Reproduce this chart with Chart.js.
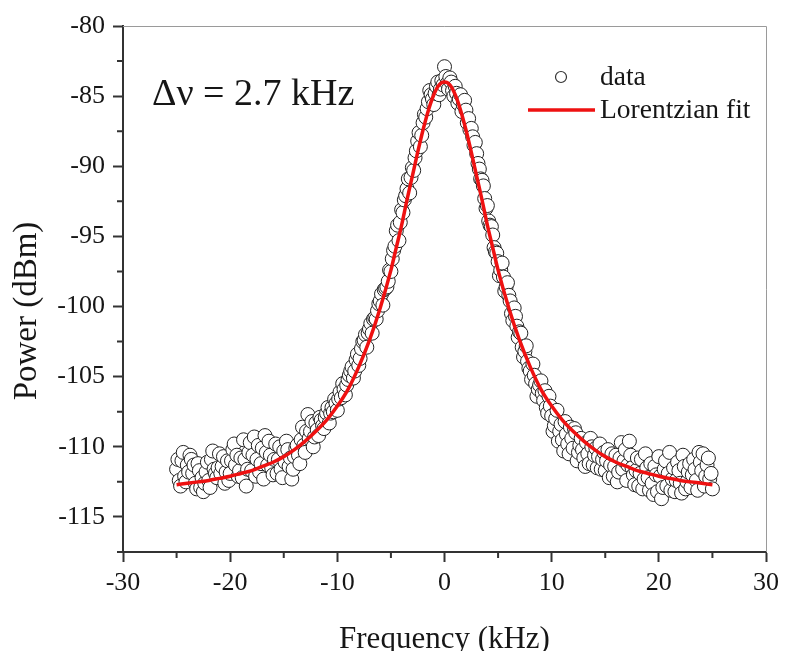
<!DOCTYPE html>
<html>
<head>
<meta charset="utf-8">
<title>Lorentzian linewidth</title>
<script src="https://cdn.jsdelivr.net/npm/chart.js@4.4.1/dist/chart.umd.min.js"></script>
<style>
  html, body { margin: 0; padding: 0; background: #fff; }
  canvas { display: block; }
</style>
</head>
<body>
<canvas id="espectro" width="785" height="651"></canvas>
<script>
// Datos medidos (kHz, dBm)
const frecuencias = [
    -25, -24.875, -24.75, -24.625, -24.5, -24.375, -24.25, -24.125, -24, -23.875, -23.75, -23.625, -23.5, -23.375, -23.25, -23.125, -23, -22.875, -22.75, -22.625,
    -22.5, -22.375, -22.25, -22.125, -22, -21.875, -21.75, -21.625, -21.5, -21.375, -21.25, -21.125, -21, -20.875, -20.75, -20.625, -20.5, -20.375, -20.25, -20.125,
    -20, -19.875, -19.75, -19.625, -19.5, -19.375, -19.25, -19.125, -19, -18.875, -18.75, -18.625, -18.5, -18.375, -18.25, -18.125, -18, -17.875, -17.75, -17.625,
    -17.5, -17.375, -17.25, -17.125, -17, -16.875, -16.75, -16.625, -16.5, -16.375, -16.25, -16.125, -16, -15.875, -15.75, -15.625, -15.5, -15.375, -15.25, -15.125,
    -15, -14.875, -14.75, -14.625, -14.5, -14.375, -14.25, -14.125, -14, -13.875, -13.75, -13.625, -13.5, -13.375, -13.25, -13.125, -13, -12.875, -12.75, -12.625,
    -12.5, -12.375, -12.25, -12.125, -12, -11.875, -11.75, -11.625, -11.5, -11.375, -11.25, -11.125, -11, -10.875, -10.75, -10.625, -10.5, -10.375, -10.25, -10.125,
    -10, -9.875, -9.75, -9.625, -9.5, -9.375, -9.25, -9.125, -9, -8.875, -8.75, -8.625, -8.5, -8.375, -8.25, -8.125, -8, -7.875, -7.75, -7.625,
    -7.5, -7.375, -7.25, -7.125, -7, -6.875, -6.75, -6.625, -6.5, -6.375, -6.25, -6.125, -6, -5.875, -5.75, -5.625, -5.5, -5.375, -5.25, -5.125,
    -5, -4.875, -4.75, -4.625, -4.5, -4.375, -4.25, -4.125, -4, -3.875, -3.75, -3.625, -3.5, -3.375, -3.25, -3.125, -3, -2.875, -2.75, -2.625,
    -2.5, -2.375, -2.25, -2.125, -2, -1.875, -1.75, -1.625, -1.5, -1.375, -1.25, -1.125, -1, -0.875, -0.75, -0.625, -0.5, -0.375, -0.25, -0.125,
    0, 0.125, 0.25, 0.375, 0.5, 0.625, 0.75, 0.875, 1, 1.125, 1.25, 1.375, 1.5, 1.625, 1.75, 1.875, 2, 2.125, 2.25, 2.375,
    2.5, 2.625, 2.75, 2.875, 3, 3.125, 3.25, 3.375, 3.5, 3.625, 3.75, 3.875, 4, 4.125, 4.25, 4.375, 4.5, 4.625, 4.75, 4.875,
    5, 5.125, 5.25, 5.375, 5.5, 5.625, 5.75, 5.875, 6, 6.125, 6.25, 6.375, 6.5, 6.625, 6.75, 6.875, 7, 7.125, 7.25, 7.375,
    7.5, 7.625, 7.75, 7.875, 8, 8.125, 8.25, 8.375, 8.5, 8.625, 8.75, 8.875, 9, 9.125, 9.25, 9.375, 9.5, 9.625, 9.75, 9.875,
    10, 10.125, 10.25, 10.375, 10.5, 10.625, 10.75, 10.875, 11, 11.125, 11.25, 11.375, 11.5, 11.625, 11.75, 11.875, 12, 12.125, 12.25, 12.375,
    12.5, 12.625, 12.75, 12.875, 13, 13.125, 13.25, 13.375, 13.5, 13.625, 13.75, 13.875, 14, 14.125, 14.25, 14.375, 14.5, 14.625, 14.75, 14.875,
    15, 15.125, 15.25, 15.375, 15.5, 15.625, 15.75, 15.875, 16, 16.125, 16.25, 16.375, 16.5, 16.625, 16.75, 16.875, 17, 17.125, 17.25, 17.375,
    17.5, 17.625, 17.75, 17.875, 18, 18.125, 18.25, 18.375, 18.5, 18.625, 18.75, 18.875, 19, 19.125, 19.25, 19.375, 19.5, 19.625, 19.75, 19.875,
    20, 20.125, 20.25, 20.375, 20.5, 20.625, 20.75, 20.875, 21, 21.125, 21.25, 21.375, 21.5, 21.625, 21.75, 21.875, 22, 22.125, 22.25, 22.375,
    22.5, 22.625, 22.75, 22.875, 23, 23.125, 23.25, 23.375, 23.5, 23.625, 23.75, 23.875, 24, 24.125, 24.25, 24.375, 24.5, 24.625, 24.75, 24.875,
    25
];
const potencias = [
    -111.6, -110.9, -112.4, -112.8, -111.0, -110.4, -112.1, -112.5, -111.3, -111.8, -110.6, -110.9, -111.9, -111.3, -112.6, -113.0, -111.2, -111.7, -112.9, -112.2,
    -113.2, -112.6, -111.8, -111.1, -112.4, -112.9, -110.9, -110.3, -111.6, -111.9, -112.2, -111.5, -110.5, -111.9, -111.4, -110.7, -112.6, -111.8, -111.0, -112.4,
    -111.9, -111.0, -110.2, -109.8, -111.3, -110.6, -112.1, -111.7, -110.8, -112.2, -109.5, -110.9, -112.8, -111.6, -110.4, -109.7, -111.7, -110.6, -109.3, -112.1,
    -110.9, -109.9, -111.8, -111.2, -110.1, -112.3, -109.2, -110.4, -111.3, -109.6, -110.6, -111.5, -112.0, -110.9, -109.8, -111.9, -110.9, -110.0, -111.6, -112.2,
    -110.3, -111.1, -109.6, -110.2, -111.4, -110.8, -112.3, -111.6, -110.7, -110.1, -109.9, -110.6, -111.2, -109.5, -108.6, -109.9, -110.4, -108.9, -107.7, -109.4,
    -108.9, -108.2, -110.0, -109.3, -108.3, -108.8, -109.2, -107.9, -108.1, -108.5, -108.7, -107.9, -107.6, -107.2, -108.3, -107.6, -107.2, -107.5, -106.6, -106.9,
    -107.4, -106.6, -106.1, -106.5, -105.5, -105.9, -106.3, -105.6, -105.2, -104.9, -104.6, -104.3, -105.1, -104.6, -103.8, -103.4, -104.2, -103.7, -103.0, -102.5,
    -102.4, -102.0, -102.9, -101.9, -101.6, -101.2, -101.9, -100.9, -100.8, -100.9, -100.3, -99.8, -99.6, -99.1, -99.9, -98.8, -98.7, -98.6, -98.2, -97.4,
    -97.5, -96.6, -96.0, -95.7, -94.6, -94.2, -95.3, -94.0, -93.1, -93.3, -92.4, -92.1, -91.6, -90.9, -91.9, -90.8, -90.1, -90.3, -89.4, -88.9,
    -88.2, -87.6, -88.6, -87.8, -86.9, -86.3, -86.5, -85.9, -85.4, -84.6, -84.9, -85.2, -85.6, -84.8, -84.3, -84.0, -84.9, -84.5, -83.9, -84.2,
    -82.9, -83.6, -84.1, -84.5, -83.7, -84.0, -84.6, -85.0, -84.3, -84.8, -85.5, -85.2, -84.9, -86.1, -85.6, -85.3, -86.0, -86.9, -86.6, -87.4,
    -87.3, -87.9, -88.5, -88.3, -89.1, -89.8, -90.2, -90.9, -91.0, -91.4, -92.3, -93.0, -92.8, -93.9, -94.2, -94.3, -94.9, -95.8, -96.1, -96.2,
    -96.8, -97.8, -97.4, -96.9, -97.9, -98.9, -98.6, -98.3, -99.2, -99.6, -100.5, -101.0, -100.1, -100.7, -101.4, -102.2, -101.8, -101.9, -102.9, -103.6,
    -103.2, -102.8, -103.9, -104.4, -104.6, -105.2, -104.1, -104.9, -105.5, -106.4, -105.9, -105.6, -105.3, -106.2, -106.7, -106.0, -107.2, -107.6, -106.4, -107.1,
    -107.8, -108.9, -108.5, -108.0, -107.4, -109.6, -108.9, -108.4, -109.5, -110.3, -108.2, -109.1, -109.8, -110.5, -108.6, -109.4, -110.1, -108.7, -109.0, -111.0,
    -110.4, -109.9, -109.4, -110.2, -110.8, -111.4, -109.7, -110.5, -111.2, -109.4, -110.0, -111.3, -110.6, -110.1, -111.5, -110.7, -109.8, -111.6, -110.9, -110.4,
    -111.7, -111.0, -110.2, -112.2, -111.3, -110.5, -112.1, -111.4, -110.6, -112.5, -111.8, -110.8, -109.7, -111.6, -111.0, -110.2, -112.4, -111.3, -109.6, -110.6,
    -111.5, -112.0, -112.7, -111.7, -110.8, -112.8, -111.9, -110.9, -113.0, -112.3, -110.5, -111.5, -112.2, -113.1, -111.2, -112.6, -113.4, -111.4, -112.0, -113.2,
    -110.7, -112.1, -113.7, -112.9, -111.6, -111.0, -112.8, -111.9, -110.4, -113.1, -112.3, -111.5, -113.2, -112.4, -111.1, -111.7, -112.6, -113.3, -110.6, -111.4,
    -113.0, -112.5, -111.8, -111.2, -112.9, -112.0, -110.9, -111.6, -112.4, -113.1, -110.4, -111.1, -111.7, -110.5, -112.8, -112.1, -111.3, -110.8, -112.3, -111.9,
    -113.0
];

// Curva de ajuste Lorentziano
const ajusteFrecuencias = [
    -25, -24, -23, -22, -21, -20, -19, -18, -17, -16, -15, -14, -13, -12, -11, -10, -9, -8, -7, -6, -5,
    -4.5, -4, -3.5, -3, -2.5, -2, -1.5, -1, -0.5, 0, 0.5, 1, 1.5, 2, 2.5, 3, 3.5, 4, 4.5,
    5, 6, 7, 8, 9, 10, 11, 12, 13, 14, 15, 16, 17, 18, 19, 20, 21, 22, 23, 24, 25
];
const ajustePotencias = [
    -112.7, -112.6, -112.5, -112.4, -112.25, -112.1, -111.9, -111.7, -111.4, -111.1, -110.7, -110.2, -109.6, -108.9, -108.1, -107.1, -105.9, -104.3, -102.4, -100.1, -97.4,
    -95.8, -94.2, -92.4, -90.7, -89.0, -87.4, -86.0, -84.9, -84.2, -84.0, -84.2, -84.9, -86.0, -87.4, -89.0, -90.7, -92.4, -94.2, -95.8,
    -97.4, -100.1, -102.4, -104.3, -105.9, -107.1, -108.1, -108.9, -109.6, -110.2, -110.7, -111.1, -111.4, -111.7, -111.9, -112.1, -112.25, -112.4, -112.5, -112.6, -112.7
];

// Marcas de los ejes
const ticksX = [-30, -20, -10, 0, 10, 20, 30];
const ticksY = [-115, -110, -105, -100, -95, -90, -85, -80];
const ticksMenoresX = [-25, -15, -5, 5, 15, 25];
const ticksMenoresY = [-117.5, -112.5, -107.5, -102.5, -97.5, -92.5, -87.5, -82.5];

document.addEventListener('DOMContentLoaded', function () {
    const serif = '"Liberation Serif", "Times New Roman", serif';
    const tinta = '#161616';

    let puntos = frecuencias.map(function (f, i) {
        return { x: f, y: potencias[i] };
    });
    let curva = ajusteFrecuencias.map(function (f, i) {
        return { x: f, y: ajustePotencias[i] };
    });

    // Marco, marcas menores, titulo del eje Y, leyenda y anotacion
    const extras = {
        id: 'extras',
        afterDraw: function (chart) {
            let ctx = chart.ctx;
            let area = chart.chartArea;
            let ejeX = chart.scales.x;
            let ejeY = chart.scales.y;
            ctx.save();

            ctx.strokeStyle = '#9a9a9a';
            ctx.lineWidth = 1;
            ctx.beginPath();
            ctx.moveTo(area.left, area.top + 0.5);
            ctx.lineTo(area.right + 0.5, area.top + 0.5);
            ctx.lineTo(area.right + 0.5, area.bottom);
            ctx.stroke();

            ctx.strokeStyle = '#333';
            ctx.lineWidth = 2;
            ctx.beginPath();
            ticksMenoresX.forEach(function (v) {
                let px = ejeX.getPixelForValue(v);
                ctx.moveTo(px, area.bottom);
                ctx.lineTo(px, area.bottom + 6);
            });
            ticksMenoresY.forEach(function (v) {
                let py = ejeY.getPixelForValue(v);
                ctx.moveTo(area.left, py);
                ctx.lineTo(area.left - 6, py);
            });
            ctx.stroke();

            // titulo del eje Y
            ctx.fillStyle = tinta;
            ctx.save();
            ctx.translate(27, 311);
            ctx.rotate(-Math.PI / 2);
            ctx.textAlign = 'center';
            ctx.textBaseline = 'middle';
            ctx.font = '33px ' + serif;
            ctx.fillText('Power (dBm)', 0, 0);
            ctx.restore();

            // leyenda
            ctx.fillStyle = '#fff';
            ctx.strokeStyle = '#333';
            ctx.lineWidth = 1.2;
            ctx.beginPath();
            ctx.arc(area.left + 438, area.top + 51, 5.5, 0, 2 * Math.PI);
            ctx.fill();
            ctx.stroke();
            ctx.strokeStyle = '#ee1111';
            ctx.lineWidth = 3.5;
            ctx.beginPath();
            ctx.moveTo(area.left + 405, area.top + 84);
            ctx.lineTo(area.left + 472, area.top + 84);
            ctx.stroke();

            ctx.fillStyle = tinta;
            ctx.textAlign = 'left';
            ctx.textBaseline = 'middle';
            ctx.font = '27.5px ' + serif;
            ctx.fillText('data', area.left + 477, area.top + 52);
            ctx.fillText('Lorentzian fit', area.left + 477, area.top + 85);

            // anotacion del ancho de linea
            ctx.font = '38px ' + serif;
            ctx.fillText('\u0394\u03bd = 2.7 kHz', area.left + 29, area.top + 69);
            ctx.restore();
        }
    };

    let ctx1 = document.getElementById('espectro').getContext('2d');
    let grafico = new Chart(ctx1, {
        type: 'scatter',
        data: {
            datasets: [
                {
                    type: 'line',
                    label: 'Lorentzian fit',
                    data: curva,
                    borderColor: '#ee1111',
                    borderWidth: 3.5,
                    pointRadius: 0,
                    fill: false,
                    cubicInterpolationMode: 'monotone',
                    order: 0
                },
                {
                    label: 'data',
                    data: puntos,
                    pointRadius: 7,
                    pointBorderWidth: 1,
                    pointBorderColor: '#222',
                    pointBackgroundColor: '#fff',
                    order: 1
                }
            ]
        },
        options: {
            responsive: false,
            animation: false,
            devicePixelRatio: 1,
            events: [],
            layout: { padding: { top: 26, right: 16, left: 0, bottom: 0 } },
            plugins: {
                legend: { display: false },
                tooltip: { enabled: false }
            },
            scales: {
                x: {
                    type: 'linear',
                    min: -30,
                    max: 30,
                    afterBuildTicks: function (s) {
                        s.ticks = ticksX.map(function (v) { return { value: v }; });
                    },
                    afterFit: function (s) { s.height = 99; },
                    border: { color: '#333', width: 2 },
                    grid: { drawOnChartArea: false, tickLength: 10, tickWidth: 2, tickColor: '#333' },
                    ticks: { font: { family: serif, size: 26 }, color: tinta, padding: 6, maxRotation: 0 },
                    title: {
                        display: true,
                        text: 'Frequency (kHz)',
                        color: tinta,
                        font: { family: serif, size: 31, lineHeight: 1 },
                        padding: { top: 0, bottom: -4 }
                    }
                },
                y: {
                    type: 'linear',
                    min: -117.5,
                    max: -80,
                    afterBuildTicks: function (s) {
                        s.ticks = ticksY.map(function (v) { return { value: v }; });
                    },
                    afterFit: function (s) { s.width = 123; },
                    border: { color: '#333', width: 2 },
                    grid: { drawOnChartArea: false, tickLength: 10, tickWidth: 2, tickColor: '#333' },
                    ticks: { font: { family: serif, size: 26 }, color: tinta, padding: 8 }
                }
            }
        },
        plugins: [extras]
    });
});
</script>
</body>
</html>
